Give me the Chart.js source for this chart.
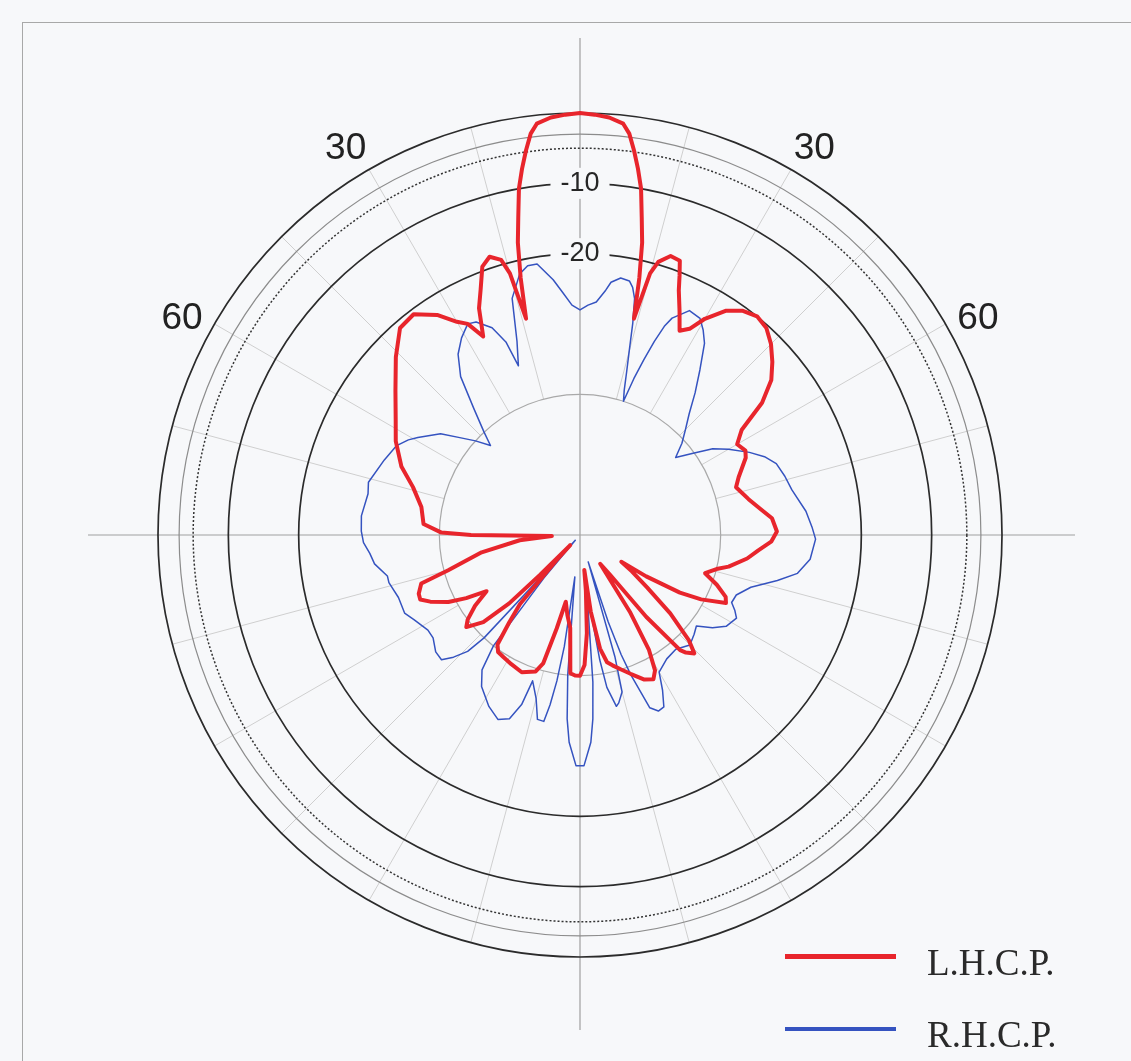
<!DOCTYPE html>
<html>
<head>
<meta charset="utf-8">
<script src="https://cdn.jsdelivr.net/npm/chart.js@4"></script>
<style>
  html, body { margin: 0; padding: 0; width: 1131px; height: 1061px; overflow: hidden; background: #f7f8fa; }
  #frame { position: absolute; left: 22px; top: 22px; width: 1200px; height: 1200px; border: 1px solid #a8a8a8; }
  #c { position: absolute; left: 0; top: 0; }
  .key { position: absolute; left: 785px; width: 111px; }
  .name { position: absolute; left: 927px; font: 37px 'Liberation Serif', serif; line-height: 1; color: #2a2a2a; }
</style>
</head>
<body>
<div id="frame"></div>
<canvas id="c" width="1131" height="1061"></canvas>
<div id="legend"></div>
<script>
(function(){
  // angles in degrees, clockwise from the top; levels in dB
  var lhcpAngle = [0,2,4,6,7,8,9,10,11,12,13,14,15,16,18,20,21,22,24,26,28,30,33,36,39,42,45,48,51,54,57,60,63,65,70,73,78,82,85,89,92,95,98,102,104,107,110,113,115,118,120,122,123,125,128,131,134,136,138,139,141,143,145,147,149,151,153,156,160,163,166,168,170,172,173,174,176,178,180,182,184,186,189,192,194,196,198,203,208,212,215,217,219,221,223,224,225,226,228,231,233,236,239,241,243,246,248,250,253,255,260,265,268,270,271,274,280,286,291,297,302,308,314,319,323,327,330,332,334,336,338,340,342,344,345,346,347,348,349,350,351,352,353,354,356,358];
  var lhcpDb = [0,-0.2,-0.5,-1.2,-2.5,-4.8,-7.3,-10,-14,-17.5,-22.5,-28.3,-21.5,-19.6,-18.3,-18.5,-20.5,-22.5,-25.2,-27.7,-26.8,-24.5,-22,-20.6,-20,-20.4,-21.6,-23.2,-25,-28,-32.6,-34.2,-33.6,-34,-36,-36.8,-35.5,-34,-32.6,-32,-32.8,-34.6,-36,-38.4,-40,-41.4,-39.3,-37.5,-37.1,-40.5,-43.6,-48.9,-53,-51,-47.9,-43,-38.5,-36.6,-37.5,-38.3,-45,-53,-55,-47,-41,-38,-37,-37.5,-39,-40,-40.9,-41.5,-43.6,-49,-55,-52,-46,-41.5,-40,-40,-40.3,-46.7,-48.5,-50.3,-46.3,-41,-39.6,-38.8,-39.2,-39.5,-39.7,-40.5,-44,-47,-55,-58,-52,-46,-41.5,-39.2,-40,-42,-44.5,-41.5,-39,-36.7,-35.5,-35.6,-36.4,-40.6,-45.8,-51.4,-56,-44.5,-40.3,-37.7,-37.1,-35.3,-32.8,-30.6,-29.1,-26.7,-23.6,-21,-20.7,-22.7,-25,-26,-28.6,-24.7,-22.3,-19.4,-18.4,-19.3,-21.5,-28.3,-22.5,-17.5,-14,-10,-7.3,-4.8,-2.5,-1.2,-0.5,-0.2];

  var rhcpAngle = [0,2,4,6,7,9,11,12,13,14,15,16,17,18,19,20,21,22,23,26,29,31,33,36,39,42,45,48,51,54,57,60,64,67,70,74,78,84,88,91,96,100,103,107,111,114,116,118,122,125,128,131,135,140,145,150,152,154,156,158,160,161,162,163,164,165,167,168,170,171,173,175,176,177,179,181,183,184,185,187,188,189,190,191,193,195,197,198,199,201,204,208,213,216,218,220,222,223,224,226,228,231,235,238,243,246,251,256,258,262,265,268,271,275,281,284,291,296,299,301,306,309,312,315,317,320,323,326,329,332,334,337,339,340,342,344,347,349,351,354,356,358];
  var rhcpDb = [-28,-27.3,-26.8,-25,-23.8,-23,-23.2,-24,-25.5,-29,-33,-36,-38.5,-40,-36.5,-33.5,-30.5,-28,-26.5,-24.5,-24.8,-26,-27.5,-31,-34,-36.8,-38.8,-40.5,-42.5,-40.3,-37.5,-35.6,-33.2,-31.5,-30.3,-29.7,-29.2,-27.7,-27,-26.5,-27.1,-28.6,-31.2,-34.6,-36.2,-36.4,-35.5,-34.8,-35.5,-37,-39,-38.5,-37.9,-38.8,-38.5,-37.5,-35,-32.8,-32.6,-33.5,-38.8,-42,-47,-56,-42,-36.9,-35.5,-35.1,-38,-42,-52,-39,-33.8,-30.5,-27.2,-27.2,-30.5,-33.8,-40,-54,-44,-39,-35.5,-33,-33.1,-35.9,-37.5,-38.2,-34.5,-32,-31.3,-32.4,-34.3,-36.3,-40,-52,-59,-40,-37,-35,-33.5,-33.6,-34.5,-34.5,-33.5,-32.7,-32.7,-32,-32,-30.5,-30,-29.2,-28.9,-28.8,-29.3,-29,-30.2,-31,-32.1,-33.1,-35.5,-38,-40,-42,-40,-36.5,-31.8,-29,-27.3,-26,-26.3,-28,-30.6,-34.4,-31,-25,-21.9,-21,-21,-23.5,-25.5,-27.3];

  var seriesNames = ['L.H.C.P.', 'R.H.C.P.'];
  var seriesColors = ['#e8252c', '#3553c0'];
  var ringValues = [-60, -40, -20, -10, -5, -3, 0];
  var ringLabels = [-10, -20];
  var angleMarkAt = [31, 61, 299, 329];
  var angleMarkText = ['30', '60', '60', '30'];

  var angleLabels = [];
  for (var i = 0; i < 360; i++) angleLabels.push(i);

  function toSeries (angles, values){
    var data = [];
    for (var i = 0; i < 360; i++) data.push(null);
    for (var j = 0; j < angles.length; j++) data[angles[j]] = values[j];
    return data;
  }

  function ringStyle (v){
    if (v === 0 || v === -10 || v === -20) return { color: '#2b2b2b', width: 1.7 };
    if (v === -3) return { color: '#8c8c8c', width: 1.2 };
    if (v === -5) return { color: '#333', width: 1.5 };
    if (v === -40) return { color: '#a9a9a9', width: 1.2 };
    return null;
  }

  var decor = {
    id: 'decor',
    beforeDraw: function(chart){
      var s = chart.scales.r, ctx = chart.ctx;
      ctx.save();
      ctx.strokeStyle = '#cfcfcf';
      ctx.lineWidth = 1;
      for (var a = 15; a < 360; a += 15) {
        if (a % 90 === 0) continue;
        var p1 = s.getPointPositionForValue(a, -40),
          p2 = s.getPointPositionForValue(a, 0);
        ctx.beginPath();
        ctx.moveTo(p1.x, p1.y);
        ctx.lineTo(p2.x, p2.y);
        ctx.stroke();
      }
      ctx.strokeStyle = '#a0a0a0';
      ctx.lineWidth = 1.2;
      ctx.beginPath();
      ctx.moveTo(s.xCenter - 492, s.yCenter);
      ctx.lineTo(s.xCenter + 495, s.yCenter);
      ctx.moveTo(s.xCenter, s.yCenter - 497);
      ctx.lineTo(s.xCenter, s.yCenter + 495);
      ctx.stroke();
      ctx.restore();
    },
    afterDraw: function(chart){
      var s = chart.scales.r, ctx = chart.ctx;
      ctx.save();
      ctx.fillStyle = '#222';
      ctx.font = '37px "Liberation Sans"';
      ctx.textAlign = 'center';
      ctx.textBaseline = 'middle';
      for (var k = 0; k < angleMarkAt.length; k++) {
        var p = s.getPointPosition(angleMarkAt[k], s.drawingArea + 33);
        ctx.fillText(angleMarkText[k], p.x, p.y + 4);
      }
      ctx.restore();
    }
  };

  var chart = new Chart(document.getElementById('c'), {
    type: 'radar',
    data: {
      labels: angleLabels,
      datasets: [{
        label: seriesNames[0],
        data: toSeries(lhcpAngle, lhcpDb),
        borderColor: seriesColors[0],
        backgroundColor: 'transparent',
        borderWidth: 4,
        fill: false,
        spanGaps: true,
        pointRadius: 0
      }, {
        label: seriesNames[1],
        data: toSeries(rhcpAngle, rhcpDb),
        borderColor: seriesColors[1],
        backgroundColor: 'transparent',
        borderWidth: 1.5,
        fill: false,
        spanGaps: true,
        pointRadius: 0
      }]
    },
    options: {
      responsive: false,
      animation: false,
      layout: { padding: { left: 143, right: 113, top: 98, bottom: 88 } },
      elements: { line: { tension: 0, borderJoinStyle: 'round', borderCapStyle: 'round' } },
      plugins: { legend: { display: false }, tooltip: { enabled: false } },
      scales: {
        r: {
          min: -60,
          max: 0,
          startAngle: 0,
          angleLines: { display: false },
          pointLabels: { display: false },
          afterBuildTicks: function(scale){
            scale.ticks = ringValues.map(function(v){ return { value: v }; });
          },
          grid: {
            circular: true,
            color: function(ctx){ var st = ringStyle(ctx.tick && ctx.tick.value); return st ? st.color : 'rgba(0,0,0,0)'; },
            lineWidth: function(ctx){ var st = ringStyle(ctx.tick && ctx.tick.value); return st ? st.width : 0; }
          },
          border: {
            dash: function(ctx){ return (ctx.tick && ctx.tick.value === -5) ? [2, 2] : []; }
          },
          ticks: {
            color: '#262626',
            font: { family: 'Liberation Sans', size: 27 },
            backdropColor: '#f7f8fa',
            backdropPadding: { x: 10, y: 2 },
            showLabelBackdrop: function(ctx){ return ringLabels.indexOf(ctx.tick && ctx.tick.value) >= 0; },
            callback: function(v){ return ringLabels.indexOf(v) >= 0 ? String(v) : ''; }
          }
        }
      }
    },
    plugins: [decor]
  });

  var legend = document.getElementById('legend');
  var keyTop = [954, 1027], keyH = [5, 4], nameTop = [944, 1016];
  chart.data.datasets.forEach(function(ds, i){
    var k = document.createElement('div');
    k.className = 'key';
    k.style.top = keyTop[i] + 'px';
    k.style.height = keyH[i] + 'px';
    k.style.background = ds.borderColor;
    legend.appendChild(k);
    var n = document.createElement('div');
    n.className = 'name';
    n.style.top = nameTop[i] + 'px';
    n.textContent = ds.label;
    legend.appendChild(n);
  });
})();
</script>
</body>
</html>
